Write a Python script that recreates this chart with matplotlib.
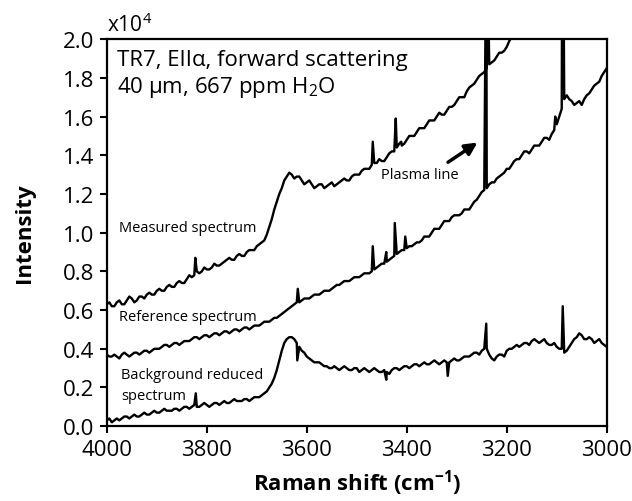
import numpy as np
import matplotlib
matplotlib.use('Agg')
import matplotlib.pyplot as plt

plt.rcParams['font.family'] = ['Open Sans', 'DejaVu Sans']
plt.rcParams['mathtext.fontset'] = 'custom'
plt.rcParams['mathtext.rm'] = 'Open Sans'
plt.rcParams['mathtext.bf'] = 'Open Sans:bold'

# Raman shift grid (cm-1): values read every 10 cm-1, plus the in-between points
shift = np.arange(4000, 2995, -10)
shift_mid = np.arange(3995, 3000, -10)

# intensities in units of 1e4
measured = [0.63, 0.62, 0.64, 0.63, 0.65, 0.66, 0.65, 0.67, 0.68, 0.68,
            0.70, 0.70, 0.72, 0.72, 0.74, 0.74, 0.76, 0.77, 0.80, 0.80,
            0.81, 0.82, 0.83, 0.84, 0.86, 0.86, 0.88, 0.88, 0.90, 0.91,
            0.93, 0.95, 0.99, 1.07, 1.16, 1.23, 1.29, 1.30, 1.29, 1.27,
            1.26, 1.25, 1.24, 1.25, 1.24, 1.26, 1.25, 1.27, 1.27, 1.29,
            1.30, 1.32, 1.33, 1.35, 1.36, 1.37, 1.39, 1.42, 1.44, 1.45,
            1.48, 1.50, 1.52, 1.54, 1.56, 1.58, 1.60, 1.61, 1.63, 1.65,
            1.68, 1.70, 1.73, 1.76, 1.79, 1.82, 1.85, 1.88, 1.91, 1.93,
            1.96, 2.01, 2.05]
measured_mid = [0.64, 0.62, 0.65, 0.63, 0.67, 0.64, 0.67, 0.66, 0.69, 0.68,
                0.71, 0.70, 0.73, 0.72, 0.75, 0.74, 0.78, 0.78, 0.79, 0.82,
                0.81, 0.84, 0.83, 0.85, 0.87, 0.86, 0.89, 0.88, 0.91, 0.91,
                0.94, 0.96, 1.03, 1.12, 1.20, 1.27, 1.31, 1.28, 1.29, 1.25,
                1.27, 1.23, 1.25, 1.23, 1.25, 1.24, 1.26, 1.28, 1.27, 1.30,
                1.30, 1.33, 1.33, 1.36, 1.38, 1.37, 1.41, 1.42, 1.46, 1.46,
                1.50, 1.50, 1.54, 1.54, 1.58, 1.58, 1.62, 1.61, 1.65, 1.66,
                1.70, 1.70, 1.75, 1.77, 1.81, 1.83, 1.87, 1.89, 1.93, 1.94,
                1.99, 2.03]
measured_spk_x = [3823, 3468, 3422, 3411, 3239.5]
measured_spk_y = [0.87, 1.47, 1.59, 1.47, 2.60]

reference = [0.37, 0.36, 0.36, 0.37, 0.37, 0.37, 0.38, 0.38, 0.39, 0.39,
             0.40, 0.41, 0.42, 0.42, 0.43, 0.43, 0.44, 0.45, 0.46, 0.46,
             0.47, 0.47, 0.48, 0.48, 0.49, 0.49, 0.50, 0.50, 0.51, 0.51,
             0.52, 0.53, 0.54, 0.55, 0.56, 0.58, 0.60, 0.62, 0.64, 0.65,
             0.66, 0.67, 0.68, 0.69, 0.70, 0.71, 0.73, 0.74, 0.75, 0.76,
             0.77, 0.78, 0.79, 0.80, 0.82, 0.84, 0.85, 0.87, 0.89, 0.91,
             0.92, 0.93, 0.95, 0.96, 0.98, 1.00, 1.02, 1.04, 1.06, 1.08,
             1.09, 1.10, 1.12, 1.14, 1.17, 1.21, 1.23, 1.26, 1.28, 1.30,
             1.33, 1.35, 1.38, 1.40, 1.42, 1.43, 1.45, 1.47, 1.49, 1.51,
             1.56, 1.64, 1.71, 1.68, 1.67, 1.66, 1.71, 1.74, 1.77, 1.81,
             1.85]
reference_mid = [0.36, 0.37, 0.35, 0.38, 0.36, 0.38, 0.37, 0.39, 0.38, 0.40,
                 0.40, 0.42, 0.41, 0.43, 0.42, 0.44, 0.44, 0.46, 0.45, 0.47,
                 0.46, 0.48, 0.47, 0.49, 0.48, 0.50, 0.49, 0.51, 0.50, 0.52,
                 0.52, 0.54, 0.54, 0.56, 0.57, 0.59, 0.61, 0.63, 0.64, 0.66,
                 0.66, 0.68, 0.68, 0.70, 0.70, 0.72, 0.73, 0.75, 0.75, 0.77,
                 0.77, 0.79, 0.79, 0.81, 0.83, 0.84, 0.86, 0.88, 0.90, 0.91,
                 0.93, 0.94, 0.95, 0.98, 0.98, 1.02, 1.02, 1.06, 1.06, 1.09,
                 1.09, 1.12, 1.12, 1.16, 1.19, 1.22, 1.25, 1.26, 1.29, 1.31,
                 1.33, 1.37, 1.38, 1.42, 1.41, 1.45, 1.45, 1.49, 1.48, 1.53,
                 1.60, 1.69, 1.69, 1.66, 1.68, 1.69, 1.72, 1.76, 1.78, 1.83]
reference_spk_x = [3618, 3468, 3441, 3424, 3403, 3241, 3103, 3089, 3087]
reference_spk_y = [0.71, 0.93, 0.90, 1.05, 0.98, 2.60, 1.60, 2.60, 2.60]

background = [0.03, 0.02, 0.04, 0.04, 0.05, 0.05, 0.05, 0.06, 0.06, 0.07,
              0.07, 0.08, 0.08, 0.08, 0.09, 0.09, 0.10, 0.10, 0.10, 0.11,
              0.11, 0.11, 0.12, 0.12, 0.12, 0.13, 0.13, 0.13, 0.14, 0.14,
              0.15, 0.16, 0.18, 0.22, 0.29, 0.39, 0.45, 0.46, 0.43, 0.39,
              0.36, 0.34, 0.33, 0.32, 0.31, 0.30, 0.30, 0.30, 0.30, 0.29,
              0.30, 0.29, 0.29, 0.29, 0.29, 0.28, 0.28, 0.29, 0.30, 0.30,
              0.31, 0.31, 0.32, 0.32, 0.32, 0.33, 0.33, 0.33, 0.33, 0.34,
              0.34, 0.35, 0.36, 0.37, 0.38, 0.39, 0.40, 0.35, 0.36, 0.37,
              0.39, 0.40, 0.42, 0.42, 0.43, 0.44, 0.44, 0.44, 0.43, 0.42,
              0.41, 0.40, 0.39, 0.43, 0.46, 0.47, 0.45, 0.45, 0.44, 0.43,
              0.41]
background_mid = [0.04, 0.03, 0.03, 0.05, 0.04, 0.06, 0.05, 0.07, 0.06, 0.08,
                  0.07, 0.09, 0.08, 0.09, 0.08, 0.10, 0.09, 0.11, 0.10, 0.12,
                  0.10, 0.12, 0.11, 0.13, 0.12, 0.14, 0.13, 0.14, 0.13, 0.15,
                  0.15, 0.17, 0.20, 0.25, 0.34, 0.43, 0.46, 0.45, 0.41, 0.38,
                  0.35, 0.33, 0.33, 0.31, 0.30, 0.31, 0.29, 0.31, 0.29, 0.30,
                  0.28, 0.30, 0.28, 0.30, 0.28, 0.29, 0.27, 0.30, 0.29, 0.31,
                  0.30, 0.32, 0.31, 0.33, 0.32, 0.34, 0.32, 0.34, 0.33, 0.35,
                  0.34, 0.36, 0.36, 0.38, 0.37, 0.40, 0.37, 0.34, 0.37, 0.36,
                  0.40, 0.41, 0.41, 0.43, 0.42, 0.45, 0.43, 0.45, 0.42, 0.43,
                  0.40, 0.38, 0.41, 0.45, 0.48, 0.45, 0.46, 0.43, 0.45, 0.42]
background_spk_x = [3822, 3619, 3441, 3318, 3241, 3088]
background_spk_y = [0.17, 0.34, 0.24, 0.26, 0.53, 0.62]


def merge(vals, mids, sx, sy):
    x = np.concatenate([shift[:len(vals)], shift_mid[:len(mids)], sx])
    y = np.concatenate([vals, mids, sy])
    order = np.argsort(-x, kind='stable')
    return x[order], y[order]


fig = plt.figure(figsize=(6.32, 5.02), dpi=100)
ax = fig.add_axes([0.169, 0.149, 0.791, 0.771])

for vals, mids, sx, sy in [(measured, measured_mid, measured_spk_x, measured_spk_y),
                           (reference, reference_mid, reference_spk_x, reference_spk_y),
                           (background, background_mid, background_spk_x, background_spk_y)]:
    x, y = merge(vals, mids, sx, sy)
    ax.plot(x, y, color='black', lw=1.7)

ax.set_xlim(4000, 3000)
ax.set_ylim(0, 2.0)
ax.set_xticks(np.arange(4000, 2999, -200))
ax.set_yticks(np.arange(0, 2.01, 0.2))
ax.set_yticklabels([f'{v:.1f}' for v in np.arange(0, 2.01, 0.2)])
ax.tick_params(direction='out', length=5, width=1.5, labelsize=16, pad=4)
for s in ax.spines.values():
    s.set_linewidth(1.6)

ax.set_xlabel('Raman shift (cm$^{\\mathbf{-1}}$)', fontsize=16, fontweight='bold', labelpad=5)
ax.set_ylabel('Intensity', fontsize=16, fontweight='bold', labelpad=20)

ax.text(0, 1.008, 'x10$^{4}$', transform=ax.transAxes, fontsize=15, va='bottom', ha='left')
ax.text(3980, 1.897, 'TR7, EII\u03b1, forward scattering', fontsize=16, va='center')
ax.text(3980, 1.753, '40 \u00b5m, 667 ppm H$_2$O', fontsize=16, va='center')

ax.text(3976, 1.025, 'Measured spectrum', fontsize=10.5, va='center')
ax.text(3976, 0.567, 'Reference spectrum', fontsize=10.5, va='center')
ax.text(3972, 0.268, 'Background reduced', fontsize=10.5, va='center')
ax.text(3972, 0.16, 'spectrum', fontsize=10.5, va='center')
ax.text(3374, 1.30, 'Plasma line', fontsize=10.5, va='center', ha='center')
ax.annotate('', xy=(3254, 1.474), xytext=(3322, 1.356),
            arrowprops=dict(arrowstyle='-|>', color='black', lw=2.5, mutation_scale=18))

fig.savefig('out.png', dpi=100)
